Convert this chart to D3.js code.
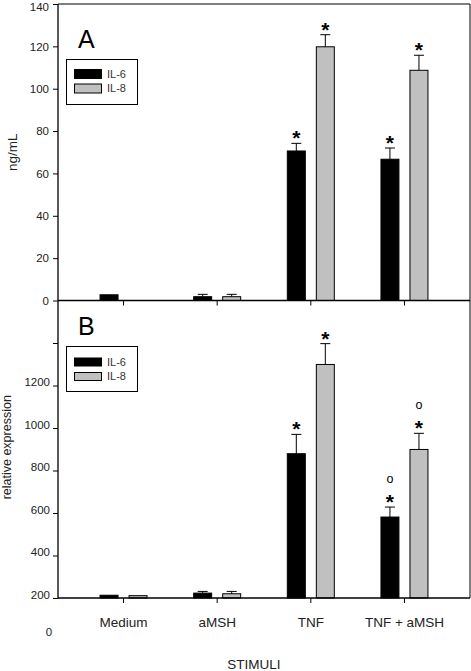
<!DOCTYPE html>
<html><head><meta charset="utf-8">
<script src="https://cdn.jsdelivr.net/npm/d3@7"></script>
<style>body{margin:0;background:#fff}svg{display:block}text{font-family:"Liberation Sans",Arial,sans-serif}</style>
</head><body>
<svg id="chart" width="471" height="671"></svg>
<script>
const categories = ["Medium", "aMSH", "TNF", "TNF + aMSH"];
const series = ["IL-6", "IL-8"];
// Panel A (ng/mL)
const aIL6 = [2.7, 1.8, 70.6, 66.7];
const aIL6Err = [0, 1.1, 3.6, 5.3];
const aIL8 = [0, 1.8, 119.8, 108.7];
const aIL8Err = [0, 1.1, 5.7, 7.1];
const aIL6Mark = ["", "", "*", "*"];
const aIL8Mark = ["", "", "*", "*"];
const aTicks = [0, 20, 40, 60, 80, 100, 120, 140];
// Panel B (relative expression)
const bIL6 = [213, 223, 879, 581];
const bIL6Err = [0, 8, 91, 47];
const bIL8 = [211, 220, 1299, 899];
const bIL8Err = [0, 11, 98, 76];
const bIL6Mark = ["", "", "*", "o*"];
const bIL8Mark = ["", "", "*", "o*"];
const bTicks = [200, 400, 600, 800, 1000, 1200, 1400];
const bTickLabels = ["200", "400", "600", "800", "1000", "1200", ""];

const colors = {"IL-6": "#000000", "IL-8": "#c0c0c0"};
const svg = d3.select("#chart");
const L = 58, R = 470;
const x = d3.scaleBand().domain(categories).range([L, R]).paddingInner(0).paddingOuter(0.2);
const xs = d3.scaleBand().domain(series).range([-23.5, 23.5]).paddingInner(0.38);
const cx = c => x(c) + x.bandwidth() / 2;

const yA = d3.scaleLinear().domain([0, 140]).range([300.5, 4]);
const yB = d3.scaleLinear().domain([200, 1600]).range([598, 300.5]);

function panel(y, data, letter, legendBox) {
  const [y0] = y.range();
  series.forEach((s, si) => {
    const vals = data[si].v, errs = data[si].e, marks = data[si].m;
    categories.forEach((c, i) => {
      const v = vals[i];
      if (v <= y.domain()[0]) return;
      const bx = cx(c) + xs(s);
      const g = svg.append("g");
      g.append("rect").attr("x", bx).attr("y", y(v)).attr("width", xs.bandwidth())
        .attr("height", y0 - y(v)).attr("fill", colors[s]).attr("stroke", "#000").attr("stroke-width", 1);
      const mx = bx + xs.bandwidth() / 2;
      let capY = y(v);
      if (errs[i] > 0) {
        capY = y(v + errs[i]);
        g.append("line").attr("x1", mx).attr("x2", mx).attr("y1", y(v)).attr("y2", capY).attr("stroke", "#000");
        g.append("line").attr("x1", mx - 5).attr("x2", mx + 5).attr("y1", capY).attr("y2", capY).attr("stroke", "#000");
      }
      const m = marks[i];
      if (m.includes("*")) {
        g.append("text").attr("x", mx).attr("y", capY + 2).attr("text-anchor", "middle")
          .attr("font-size", 21).attr("font-weight", "bold").attr("fill", "#000").text("*");
      }
      if (m.includes("o")) {
        g.append("text").attr("x", mx).attr("y", capY - 24).attr("text-anchor", "middle")
          .attr("font-size", 12.5).attr("fill", "#000").text("o");
      }
    });
  });
  // letter
  svg.append("text").attr("x", 78).attr("y", legendBox.y - 12).attr("font-size", 25).attr("fill", "#000").text(letter);
  // legend
  const lg = svg.append("g");
  lg.append("rect").attr("x", 66.5).attr("y", legendBox.y).attr("width", 71).attr("height", legendBox.h)
    .attr("fill", "#fff").attr("stroke", "#000").attr("stroke-width", 1);
  series.forEach((s, i) => {
    const sy = legendBox.y + legendBox.sw[i];
    lg.append("rect").attr("x", 74.5).attr("y", sy).attr("width", 27).attr("height", legendBox.sh)
      .attr("fill", colors[s]).attr("stroke", "#000");
    lg.append("text").attr("x", 107).attr("y", sy + legendBox.sh / 2).attr("dy", "0.36em")
      .attr("font-size", 11).attr("fill", "#333").text(s);
  });
}

panel(yA, [{v: aIL6, e: aIL6Err, m: aIL6Mark}, {v: aIL8, e: aIL8Err, m: aIL8Mark}], "A",
  {y: 59.5, h: 45, sw: [10, 24.5], sh: 9});
panel(yB, [{v: bIL6, e: bIL6Err, m: bIL6Mark}, {v: bIL8, e: bIL8Err, m: bIL8Mark}], "B",
  {y: 346.5, h: 45, sw: [11.5, 26], sh: 8});

// frame lines
svg.append("line").attr("x1", L).attr("x2", R).attr("y1", 4).attr("y2", 4).attr("stroke", "#000");
svg.append("line").attr("x1", R).attr("x2", R).attr("y1", 4).attr("y2", 598).attr("stroke", "#000");

// Axes A
const axA = svg.append("g").attr("transform", `translate(${L},0)`)
  .call(d3.axisLeft(yA).tickValues(aTicks).tickSize(5).tickPadding(4));
const axAx = svg.append("g").attr("transform", `translate(0,${yA(0)})`)
  .call(d3.axisBottom(x).tickSize(5).tickFormat(""));
// Axes B
const axB = svg.append("g").attr("transform", `translate(${L},0)`)
  .call(d3.axisLeft(yB).tickValues(bTicks).tickSize(5).tickPadding(3)
    .tickFormat((d, i) => bTickLabels[i]));
const axBx = svg.append("g").attr("transform", `translate(0,${yB(200)})`)
  .call(d3.axisBottom(x).tickSize(5).tickPadding(14));

[axA, axAx, axB, axBx].forEach(a => {
  a.selectAll("path.domain").attr("stroke", "#000").attr("stroke-width", 1.3);
  a.selectAll(".tick line").attr("stroke", "#000");
  a.selectAll(".tick text").attr("font-size", 11.5).attr("fill", "#222")
    .attr("font-family", "Liberation Sans, Arial, sans-serif");
});
axA.selectAll(".tick text").filter(d => d === 140).attr("dy", "0.55em");
axB.selectAll(".tick text").attr("dy", "0em");
axBx.selectAll(".tick text").attr("font-size", 13.5);
axAx.select("path.domain").attr("d", `M${L},0H${R}`);
axBx.select("path.domain").attr("d", `M${L},0H${R}`);
axA.select("path.domain").attr("d", `M0,${yA(0)}V${yA(140)}`);
axB.select("path.domain").attr("d", `M0,${yB(200)}V${yB(1600)}`);

// stray zero label
svg.append("text").attr("x", 49).attr("y", 636).attr("text-anchor", "middle")
  .attr("font-size", 11.5).attr("fill", "#222").text("0");

// axis titles
svg.append("text").attr("transform", `translate(17,${(yA(0) + yA(140)) / 2}) rotate(-90)`)
  .attr("text-anchor", "middle").attr("font-size", 13.5).attr("fill", "#222").text("ng/mL");
svg.append("text").attr("transform", `translate(11,${(yB(200) + yB(1600)) / 2 - 2}) rotate(-90)`)
  .attr("text-anchor", "middle").attr("font-size", 12.5).attr("fill", "#222").text("relative expression");
svg.append("text").attr("x", 254).attr("y", 669).attr("text-anchor", "middle")
  .attr("font-size", 13.5).attr("fill", "#222").text("STIMULI");
</script>
</body></html>
